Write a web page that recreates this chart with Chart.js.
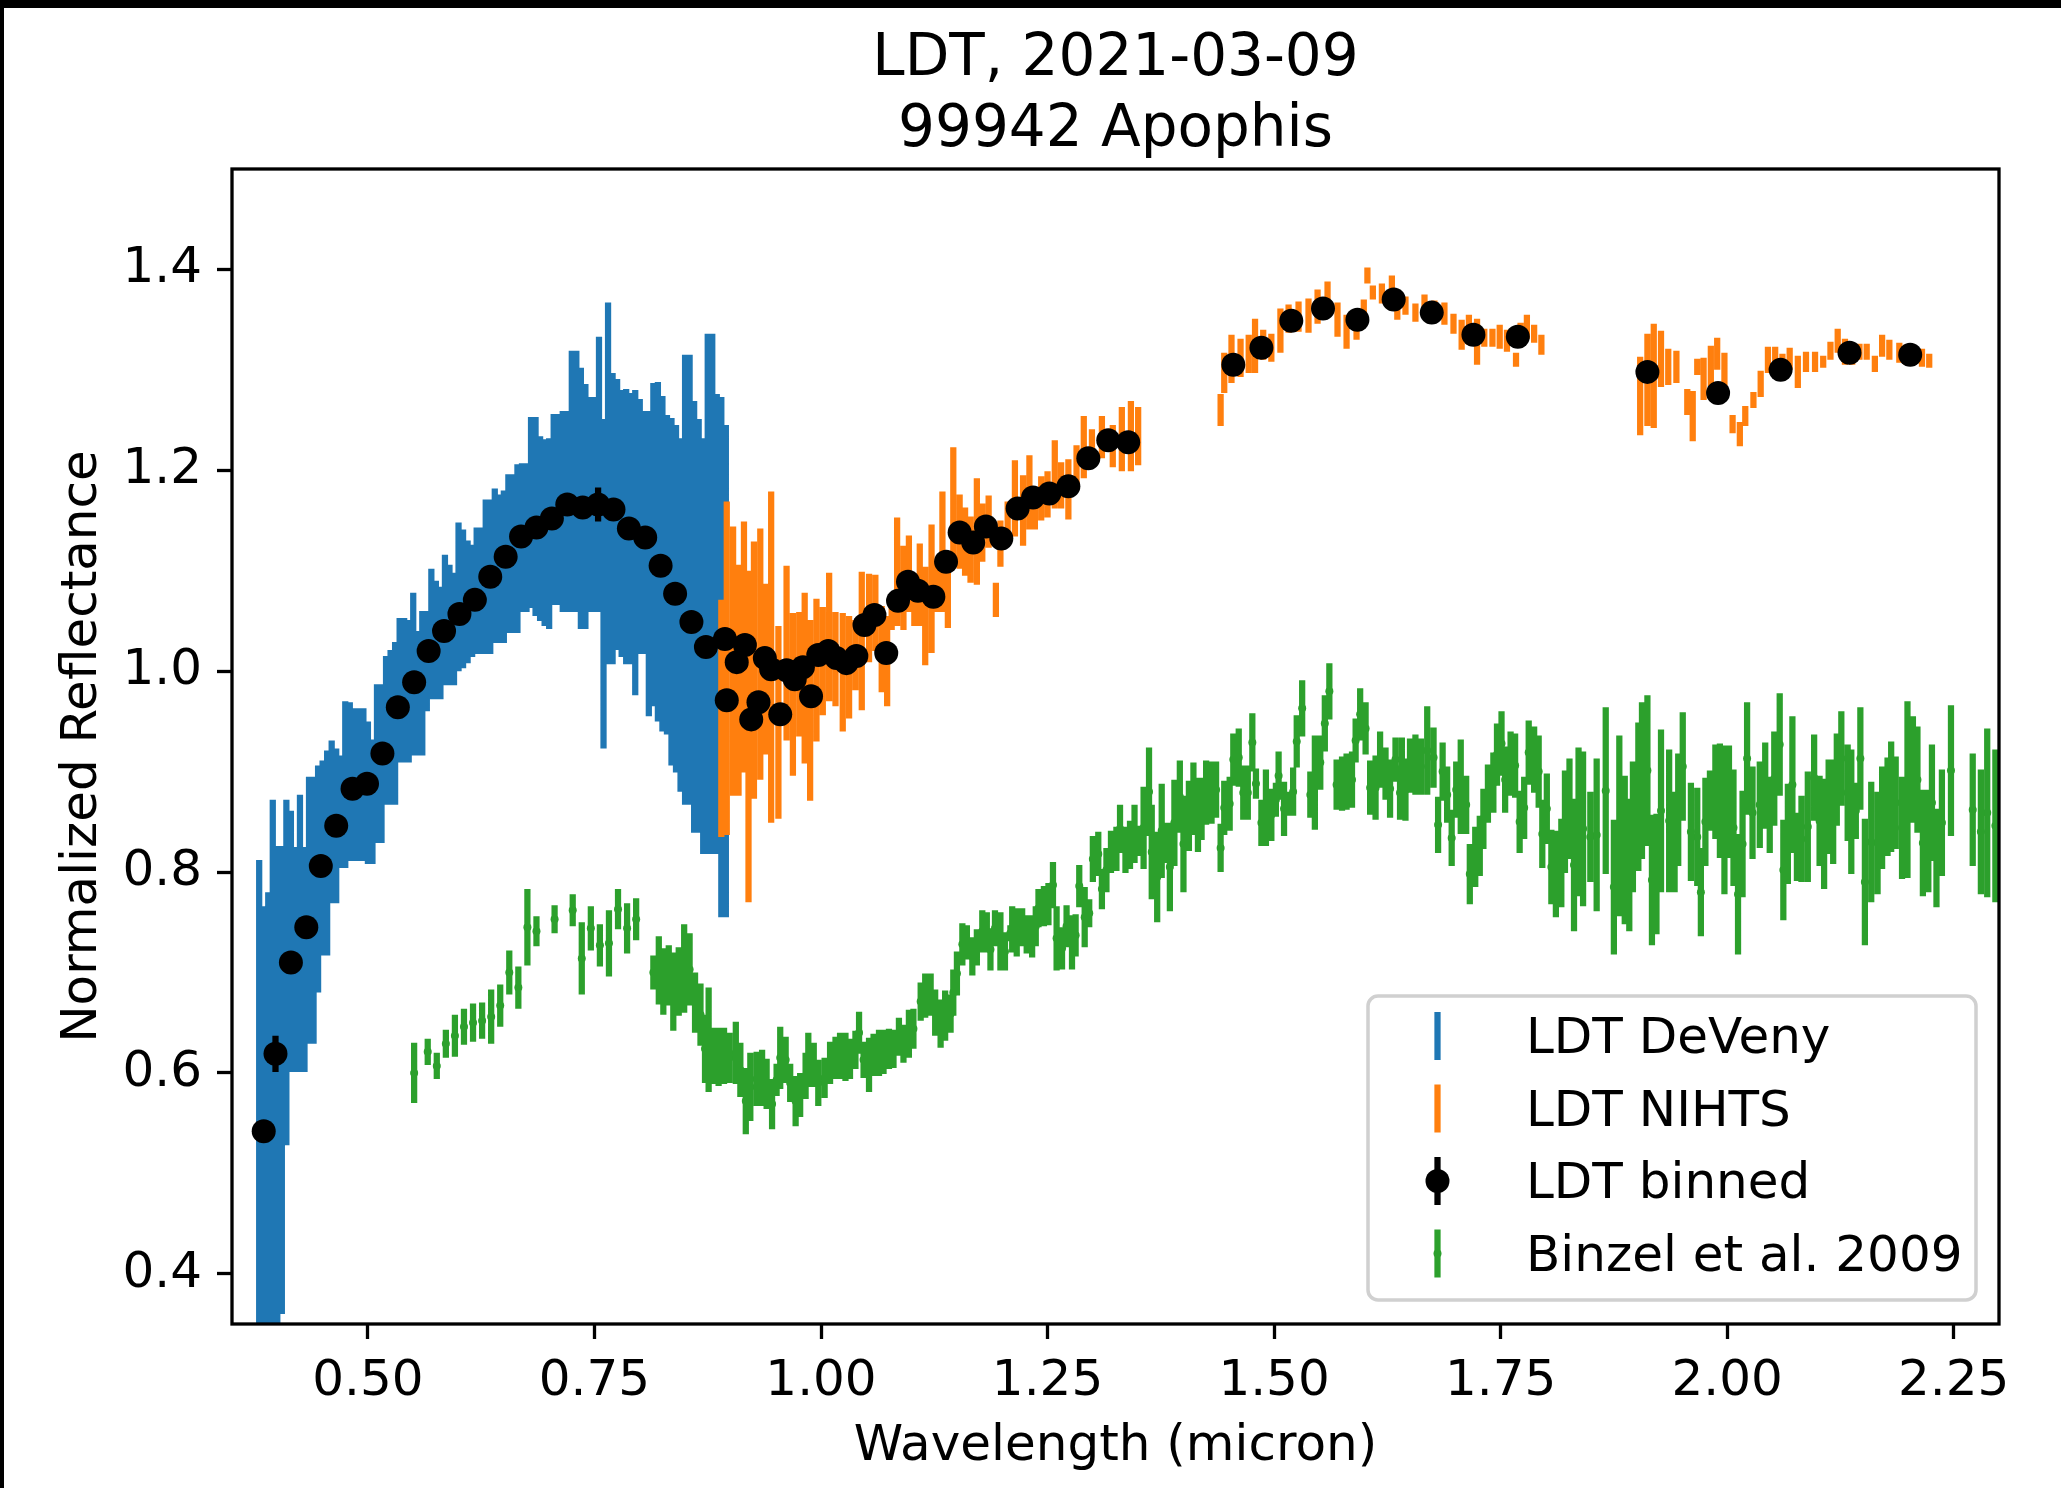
<!DOCTYPE html>
<html>
<head>
<meta charset="utf-8">
<title>LDT, 2021-03-09 - 99942 Apophis</title>
<script src="https://cdn.jsdelivr.net/npm/chart.js@4.4.1/dist/chart.umd.min.js"></script>
<style>
  html, body { margin: 0; padding: 0; background: #000; overflow: hidden; }
  #chart { position: absolute; left: 4px; top: 8px; background: #fff; }
</style>
</head>
<body>
<canvas id="chart" width="2057" height="1480"></canvas>
<script>
const FONT = '"DejaVu Sans", "Liberation Sans", sans-serif';

const titleLines = ['LDT, 2021-03-09', '99942 Apophis'];
const seriesNames = ['LDT DeVeny', 'LDT NIHTS', 'LDT binned', 'Binzel et al. 2009'];
const seriesColors = ['#1f77b4', '#ff7f0e', '#000000', '#2ca02c'];
const xTickValues = [0.50, 0.75, 1.00, 1.25, 1.50, 1.75, 2.00, 2.25];
const yTickValues = [0.4, 0.6, 0.8, 1.0, 1.2, 1.4];

// LDT DeVeny (visible spectrum)
const devenyWave = [0.380,0.385,0.390,0.395,0.400,0.405,0.410,0.415,0.420,0.425,
  0.430,0.435,0.440,0.445,0.450,0.455,0.460,0.465,0.470,0.475,
  0.480,0.485,0.490,0.495,0.500,0.505,0.510,0.515,0.520,0.525,
  0.530,0.535,0.540,0.545,0.550,0.555,0.560,0.565,0.570,0.575,
  0.580,0.585,0.590,0.595,0.600,0.605,0.610,0.615,0.620,0.625,
  0.630,0.635,0.640,0.645,0.650,0.655,0.660,0.665,0.670,0.675,
  0.680,0.685,0.690,0.695,0.700,0.705,0.710,0.715,0.720,0.725,
  0.730,0.735,0.740,0.745,0.750,0.755,0.760,0.765,0.770,0.775,
  0.780,0.785,0.790,0.795,0.800,0.805,0.810,0.815,0.820,0.825,
  0.830,0.835,0.840,0.845,0.850,0.855,0.860,0.865,0.870,0.875,
  0.880,0.885,0.890,0.895];
const devenyRefl = [0.576,0.553,0.560,0.606,0.583,0.593,0.700,0.731,0.713,0.739,
  0.713,0.762,0.762,0.793,0.814,0.819,0.850,0.846,0.860,0.887,
  0.890,0.887,0.887,0.887,0.879,0.870,0.908,0.908,0.941,0.944,
  0.948,0.981,0.981,0.980,0.997,0.978,0.988,1.010,1.037,1.031,
  1.028,1.051,1.046,1.042,1.074,1.072,1.069,1.070,1.080,1.080,
  1.094,1.094,1.105,1.102,1.104,1.117,1.117,1.122,1.133,1.133,
  1.158,1.154,1.142,1.138,1.137,1.161,1.161,1.159,1.159,1.189,
  1.189,1.172,1.164,1.166,1.166,1.196,1.087,1.187,1.152,1.156,
  1.147,1.144,1.142,1.128,1.144,1.138,1.107,1.126,1.119,1.107,
  1.096,1.079,1.072,1.056,1.091,1.091,1.054,1.045,1.025,1.077,
  1.077,1.047,1.014,1.000];
const devenyErr = [0.236,0.213,0.220,0.266,0.243,0.233,0.172,0.130,0.112,0.138,
  0.112,0.133,0.133,0.113,0.097,0.102,0.081,0.077,0.056,0.083,
  0.079,0.076,0.076,0.076,0.071,0.062,0.079,0.079,0.074,0.077,
  0.081,0.072,0.072,0.071,0.081,0.062,0.072,0.050,0.065,0.059,
  0.056,0.065,0.060,0.056,0.074,0.069,0.061,0.056,0.063,0.063,
  0.077,0.077,0.077,0.074,0.076,0.079,0.079,0.084,0.074,0.074,
  0.095,0.099,0.092,0.093,0.095,0.095,0.095,0.100,0.100,0.130,
  0.130,0.130,0.122,0.107,0.107,0.137,0.164,0.180,0.145,0.135,
  0.133,0.137,0.135,0.152,0.127,0.121,0.152,0.161,0.169,0.167,
  0.159,0.173,0.173,0.176,0.224,0.224,0.215,0.206,0.207,0.259,
  0.259,0.229,0.259,0.245];

// LDT NIHTS (near-infrared spectrum)
const nihtsWave = [0.890,0.896,0.903,0.909,0.915,0.920,0.926,0.933,0.939,0.945,
  0.953,0.962,0.969,0.976,0.982,0.988,0.995,1.002,1.009,1.016,
  1.024,1.031,1.038,1.045,1.053,1.060,1.067,1.073,1.078,1.084,
  1.091,1.097,1.103,1.109,1.115,1.122,1.128,1.134,1.140,1.146,
  1.153,1.159,1.165,1.172,1.178,1.185,1.193,1.198,1.206,1.214,
  1.223,1.230,1.236,1.243,1.250,1.258,1.265,1.273,1.282,1.290,
  1.299,1.310,1.322,1.332,1.342,1.350,
  1.441,1.445,1.453,1.463,1.472,1.479,1.488,1.497,1.507,1.516,
  1.527,1.538,1.548,1.559,1.570,1.580,1.591,1.599,1.603,1.609,
  1.619,1.630,1.636,1.645,1.656,1.666,1.677,1.688,1.698,1.707,
  1.715,1.724,1.732,1.741,1.749,1.757,1.767,1.772,1.779,1.787,1.795,
  1.904,1.912,1.919,1.927,1.935,1.944,1.956,1.962,1.967,1.974,
  1.982,1.989,1.997,2.006,2.014,2.020,2.029,2.037,2.045,2.053,
  2.061,2.069,2.078,2.087,2.097,2.106,2.114,2.122,2.130,2.138,
  2.146,2.154,2.163,2.171,2.179,2.190,2.198,2.206,2.215,2.223];
const nihtsRefl = [0.953,1.003,1.010,0.991,1.024,0.935,1.001,1.017,1.002,1.014,
  0.949,1.018,0.977,0.997,0.993,0.961,1.001,1.010,1.034,1.012,
  0.999,1.004,1.016,1.030,1.053,1.058,1.022,1.010,1.057,1.099,
  1.083,1.097,1.069,1.086,1.055,1.082,1.085,1.119,1.078,1.166,
  1.139,1.129,1.121,1.139,1.138,1.149,1.071,1.127,1.148,1.172,
  1.160,1.178,1.162,1.172,1.176,1.196,1.185,1.181,1.204,1.223,
  1.222,1.233,1.224,1.231,1.234,1.234,
  1.260,1.297,1.311,1.312,1.316,1.324,1.325,1.322,1.339,1.351,
  1.353,1.354,1.363,1.373,1.350,1.338,1.344,1.358,1.394,1.377,
  1.376,1.381,1.360,1.364,1.357,1.365,1.360,1.356,1.346,1.335,
  1.340,1.328,1.332,1.332,1.333,1.329,1.310,1.336,1.343,1.336,1.325,
  1.274,1.290,1.294,1.311,1.303,1.303,1.268,1.254,1.303,1.291,
  1.304,1.316,1.300,1.246,1.236,1.254,1.270,1.286,1.310,1.313,
  1.303,1.311,1.298,1.308,1.308,1.308,1.319,1.329,1.318,1.315,
  1.318,1.318,1.306,1.324,1.320,1.317,1.315,1.314,1.312,1.309];
const nihtsErr = [0.118,0.166,0.134,0.115,0.125,0.165,0.128,0.125,0.085,0.165,
  0.096,0.087,0.081,0.062,0.085,0.090,0.071,0.054,0.064,0.047,
  0.059,0.051,0.035,0.069,0.044,0.038,0.043,0.045,0.016,0.054,
  0.042,0.038,0.024,0.041,0.049,0.064,0.026,0.060,0.035,0.057,
  0.037,0.034,0.033,0.053,0.029,0.026,0.017,0.023,0.021,0.038,
  0.035,0.037,0.021,0.022,0.023,0.034,0.023,0.030,0.021,0.031,
  0.019,0.021,0.021,0.032,0.035,0.029,
  0.016,0.020,0.024,0.019,0.019,0.027,0.015,0.014,0.022,0.014,
  0.015,0.017,0.017,0.015,0.017,0.017,0.014,0.012,0.008,0.007,
  0.010,0.013,0.010,0.009,0.009,0.010,0.009,0.011,0.010,0.015,
  0.015,0.023,0.009,0.009,0.012,0.011,0.007,0.011,0.012,0.009,0.010,
  0.039,0.046,0.052,0.028,0.018,0.016,0.013,0.025,0.008,0.021,
  0.020,0.016,0.017,0.009,0.012,0.010,0.008,0.013,0.013,0.010,
  0.013,0.011,0.016,0.010,0.010,0.006,0.009,0.012,0.013,0.010,
  0.008,0.008,0.008,0.011,0.010,0.010,0.010,0.009,0.009,0.007];

// LDT binned
const binnedWave = [0.385,0.398,0.415,0.432,0.448,0.465,0.483,0.499,0.516,0.533,
  0.551,0.567,0.584,0.601,0.618,0.635,0.652,0.669,0.686,0.703,
  0.720,0.737,0.754,0.771,0.788,0.806,0.823,0.839,0.857,0.873,
  0.894,0.896,0.907,0.916,0.923,0.931,0.938,0.945,0.955,0.962,
  0.971,0.980,0.989,0.997,1.008,1.017,1.028,1.039,1.048,1.059,
  1.072,1.085,1.096,1.107,1.124,1.138,1.153,1.168,1.182,1.199,
  1.217,1.234,1.252,1.273,1.295,1.317,1.339,
  1.455,1.486,1.519,1.554,1.592,1.632,1.674,1.720,1.769,
  1.912,1.990,2.059,2.135,2.202];
const binnedRefl = [0.542,0.619,0.710,0.745,0.806,0.846,0.883,0.888,0.918,0.964,
  0.989,1.020,1.040,1.057,1.071,1.094,1.114,1.134,1.143,1.152,
  1.166,1.163,1.166,1.161,1.142,1.133,1.105,1.077,1.049,1.024,
  1.032,0.971,1.009,1.026,0.952,0.969,1.013,1.002,0.957,1.001,
  0.992,1.004,0.975,1.016,1.020,1.013,1.008,1.015,1.046,1.056,
  1.018,1.070,1.089,1.080,1.074,1.109,1.138,1.128,1.144,1.132,
  1.162,1.173,1.177,1.184,1.212,1.230,1.228,
  1.305,1.322,1.349,1.361,1.350,1.370,1.357,1.335,1.333,
  1.298,1.277,1.300,1.317,1.315];
const binnedErr = [0.005,0.018,0.005,0.005,0.005,0.005,0.005,0.005,0.005,0.005,
  0.005,0.005,0.005,0.005,0.005,0.005,0.005,0.005,0.005,0.005,
  0.005,0.005,0.017,0.005,0.005,0.005,0.005,0.005,0.005,0.005,
  0.005,0.005,0.005,0.005,0.005,0.005,0.005,0.005,0.005,0.005,
  0.005,0.005,0.005,0.005,0.005,0.005,0.005,0.005,0.005,0.005,
  0.005,0.005,0.005,0.005,0.005,0.005,0.005,0.005,0.005,0.005,
  0.005,0.005,0.005,0.005,0.005,0.005,0.005,
  0.005,0.005,0.005,0.005,0.005,0.005,0.005,0.005,0.005,
  0.005,0.005,0.005,0.005,0.005];

// Binzel et al. 2009
const binzelWave = [0.551,0.566,0.576,0.586,0.596,0.606,0.616,0.626,0.636,0.646,
  0.656,0.666,0.676,0.686,0.706,0.726,0.736,0.746,0.756,0.766,
  0.776,0.786,0.796,
  0.815,0.821,0.826,0.832,0.837,0.843,0.849,0.855,0.861,0.867,
  0.872,0.876,0.882,0.887,0.893,0.899,0.906,0.911,0.917,0.922,
  0.929,0.935,0.940,0.946,0.951,0.955,0.961,0.966,0.972,0.977,
  0.983,0.986,0.992,0.997,1.004,1.010,1.016,1.021,1.027,1.032,
  1.038,1.042,1.047,1.053,1.058,1.064,1.069,1.075,1.080,1.086,
  1.091,1.097,1.102,
  1.110,1.115,1.121,1.126,1.132,1.137,1.143,1.146,1.150,1.156,
  1.161,1.167,1.172,1.178,1.183,1.187,1.192,1.198,1.203,1.209,
  1.211,1.216,1.222,1.227,1.233,1.237,1.240,1.246,1.251,1.256,
  1.260,1.266,1.271,1.277,1.281,1.285,1.291,1.296,1.300,1.306,
  1.310,1.315,1.320,1.326,1.330,1.336,1.341,1.346,1.352,1.356,
  1.362,1.365,1.371,1.376,1.381,1.385,1.390,1.396,1.400,1.406,
  1.411,1.416,1.420,1.425,1.431,1.436,1.441,1.445,1.451,1.455,
  1.461,1.466,1.471,1.476,1.480,1.486,1.491,1.497,1.502,1.505,
  1.511,1.515,1.521,1.525,1.531,1.540,1.545,1.551,1.556,1.561,
  1.569,1.575,1.580,1.586,1.590,1.595,1.601,1.606,1.612,1.617,
  1.623,1.628,1.634,1.639,
  1.641,1.645,1.650,1.656,1.662,1.669,1.676,1.681,1.686,1.691,
  1.696,1.701,1.706,1.712,1.716,1.722,1.727,1.731,1.736,1.742,
  1.746,1.751,1.755,1.761,1.766,1.771,1.776,1.781,1.787,1.792,
  1.796,1.801,1.806,1.811,1.817,1.821,1.826,1.831,1.836,1.841,
  1.849,1.856,1.866,1.875,1.881,1.887,1.892,1.896,1.902,1.906,
  1.912,1.917,1.922,1.927,1.936,1.942,1.946,1.951,1.960,1.967,
  1.971,1.976,1.981,1.987,1.992,1.997,2.002,2.007,2.012,2.017,
  2.022,2.028,2.036,2.042,2.047,2.052,2.058,2.062,2.067,2.072,
  2.077,2.082,2.089,2.096,2.102,2.107,2.112,2.117,2.121,2.126,
  2.133,2.137,2.142,2.147,2.152,2.159,2.166,2.171,2.177,2.181,
  2.186,2.193,2.199,2.205,2.210,2.216,2.222,2.226,2.231,2.237,
  2.247,2.271,2.280,2.287,2.296];
const binzelRefl = [0.600,0.621,0.607,0.629,0.637,0.646,0.650,0.652,0.656,0.667,
  0.700,0.685,0.745,0.741,0.753,0.762,0.714,0.744,0.727,0.729,
  0.763,0.744,0.753,
  0.700,0.702,0.691,0.697,0.681,0.691,0.704,0.703,0.670,0.658,
  0.624,0.633,0.617,0.616,0.617,0.615,0.620,0.603,0.572,0.586,
  0.594,0.595,0.589,0.569,0.593,0.615,0.613,0.590,0.572,0.578,
  0.597,0.613,0.608,0.590,0.595,0.610,0.615,0.617,0.616,0.614,
  0.623,0.640,0.613,0.608,0.618,0.620,0.621,0.624,0.624,0.636,
  0.629,0.639,0.644,
  0.671,0.677,0.678,0.660,0.649,0.657,0.659,0.680,0.699,0.728,
  0.730,0.716,0.725,0.741,0.740,0.723,0.744,0.731,0.721,0.739,
  0.743,0.740,0.745,0.738,0.736,0.746,0.764,0.766,0.768,0.787,
  0.734,0.724,0.746,0.730,0.737,0.786,0.755,0.759,0.813,0.818,
  0.783,0.802,0.820,0.823,0.843,0.822,0.827,0.838,0.831,0.844,
  0.880,0.820,0.795,0.841,0.829,0.805,0.849,0.875,0.828,0.856,
  0.873,0.857,0.863,0.879,0.879,0.882,0.824,0.864,0.868,0.912,
  0.914,0.879,0.879,0.929,0.888,0.849,0.864,0.857,0.872,0.896,
  0.863,0.868,0.880,0.930,0.963,0.877,0.889,0.909,0.948,0.980,
  0.887,0.888,0.890,0.892,0.931,0.957,0.943,0.884,0.884,0.912,
  0.898,0.883,0.912,0.879,
  0.896,0.882,0.906,0.907,0.905,0.921,0.914,0.847,0.900,0.877,
  0.834,0.882,0.885,0.867,0.798,0.815,0.826,0.853,0.878,0.889,
  0.917,0.928,0.892,0.908,0.906,0.850,0.864,0.919,0.912,0.900,
  0.838,0.863,0.805,0.798,0.809,0.850,0.863,0.807,0.850,0.843,
  0.835,0.837,0.881,0.785,0.846,0.822,0.807,0.845,0.875,0.891,
  0.901,0.792,0.798,0.861,0.851,0.830,0.862,0.905,0.840,0.835,
  0.780,0.850,0.871,0.880,0.871,0.852,0.870,0.844,0.778,0.828,
  0.913,0.859,0.867,0.886,0.857,0.893,0.927,0.802,0.838,0.887,
  0.825,0.833,0.845,0.894,0.851,0.838,0.865,0.860,0.892,0.913,
  0.879,0.860,0.861,0.913,0.790,0.830,0.829,0.854,0.865,0.875,
  0.869,0.844,0.882,0.902,0.892,0.829,0.831,0.869,0.814,0.849,
  0.901,0.862,0.840,0.859,0.846];
const binzelErr = [0.030,0.013,0.013,0.014,0.021,0.018,0.019,0.018,0.027,0.021,
  0.022,0.021,0.038,0.015,0.014,0.016,0.036,0.022,0.021,0.033,
  0.020,0.025,0.021,
  0.017,0.034,0.033,0.030,0.039,0.034,0.044,0.036,0.030,0.031,
  0.034,0.052,0.028,0.029,0.028,0.025,0.031,0.027,0.033,0.034,
  0.027,0.028,0.025,0.025,0.016,0.031,0.023,0.019,0.025,0.022,
  0.023,0.027,0.022,0.023,0.020,0.021,0.021,0.023,0.024,0.020,
  0.019,0.021,0.018,0.027,0.021,0.023,0.022,0.020,0.019,0.019,
  0.019,0.024,0.020,
  0.019,0.022,0.021,0.023,0.024,0.025,0.019,0.023,0.022,0.021,
  0.017,0.019,0.018,0.021,0.020,0.021,0.018,0.029,0.019,0.008,
  0.023,0.024,0.019,0.019,0.021,0.020,0.019,0.020,0.021,0.023,
  0.032,0.021,0.021,0.027,0.021,0.021,0.030,0.014,0.023,0.022,
  0.020,0.022,0.021,0.022,0.024,0.023,0.024,0.029,0.015,0.041,
  0.044,0.047,0.045,0.047,0.020,0.044,0.043,0.036,0.048,0.035,
  0.036,0.037,0.031,0.032,0.031,0.028,0.024,0.027,0.027,0.026,
  0.029,0.027,0.027,0.029,0.015,0.023,0.038,0.026,0.017,0.024,
  0.027,0.012,0.024,0.026,0.028,0.023,0.047,0.027,0.028,0.028,
  0.025,0.027,0.028,0.028,0.022,0.026,0.026,0.027,0.032,0.028,
  0.026,0.029,0.022,0.027,
  0.038,0.031,0.027,0.030,0.028,0.044,0.030,0.028,0.029,0.028,
  0.028,0.028,0.047,0.029,0.030,0.030,0.030,0.030,0.029,0.030,
  0.031,0.032,0.033,0.032,0.032,0.031,0.031,0.032,0.033,0.036,
  0.034,0.035,0.037,0.043,0.044,0.051,0.050,0.066,0.074,0.077,
  0.045,0.076,0.083,0.067,0.090,0.074,0.066,0.065,0.074,0.078,
  0.075,0.065,0.060,0.081,0.071,0.050,0.056,0.054,0.049,0.049,
  0.044,0.044,0.030,0.047,0.057,0.074,0.056,0.058,0.060,0.053,
  0.056,0.046,0.043,0.043,0.038,0.047,0.051,0.050,0.050,0.068,
  0.034,0.043,0.055,0.043,0.045,0.055,0.047,0.052,0.046,0.047,
  0.048,0.062,0.028,0.051,0.063,0.060,0.051,0.051,0.049,0.055,
  0.046,0.051,0.088,0.053,0.053,0.053,0.051,0.058,0.049,0.053,
  0.065,0.056,0.062,0.084,0.076];

function toPoints(wave, refl) {
  return wave.map((w, i) => ({ x: w, y: refl[i] }));
}

// vertical error bars, drawn right after each dataset so the stacking order holds
const errorBars = {
  id: 'errorBars',
  afterDatasetDraw(chart, args) {
    const ds = chart.data.datasets[args.index];
    if (!ds.yErr) return;
    const { ctx, chartArea: a } = chart;
    const xs = chart.scales.x, ys = chart.scales.y;
    ctx.save();
    ctx.beginPath();
    ctx.rect(a.left, a.top, a.right - a.left, a.bottom - a.top);
    ctx.clip();
    ctx.strokeStyle = ds.borderColor;
    ctx.lineWidth = ds.barWidth;
    ctx.lineCap = 'butt';
    ctx.beginPath();
    ds.data.forEach((p, i) => {
      const px = xs.getPixelForValue(p.x);
      ctx.moveTo(px, ys.getPixelForValue(p.y + ds.yErr[i]));
      ctx.lineTo(px, ys.getPixelForValue(p.y - ds.yErr[i]));
    });
    ctx.stroke();
    ctx.restore();
  }
};

// full box around the axes
const frame = {
  id: 'frame',
  afterDatasetsDraw(chart) {
    const { ctx, chartArea: a } = chart;
    ctx.save();
    ctx.strokeStyle = '#000';
    ctx.lineWidth = 3.3;
    ctx.strokeRect(a.left, a.top, a.right - a.left, a.bottom - a.top);
    ctx.restore();
  }
};

const titleAndLegend = {
  id: 'titleAndLegend',
  afterDraw(chart) {
    const { ctx, chartArea: a } = chart;
    ctx.save();

    // two-line title
    ctx.fillStyle = '#000';
    ctx.font = '58px ' + FONT;
    ctx.textAlign = 'center';
    ctx.textBaseline = 'alphabetic';
    const cx = (a.left + a.right) / 2;
    ctx.fillText(titleLines[0], cx, a.top - 94);
    ctx.fillText(titleLines[1], cx, a.top - 23);

    // legend, lower right
    const right = a.right - 23, bottom = a.bottom - 24;
    const left = right - 608, top = bottom - 304, r = 10;
    ctx.beginPath();
    ctx.moveTo(left + r, top);
    ctx.arcTo(right, top, right, bottom, r);
    ctx.arcTo(right, bottom, left, bottom, r);
    ctx.arcTo(left, bottom, left, top, r);
    ctx.arcTo(left, top, right, top, r);
    ctx.closePath();
    ctx.fillStyle = 'rgba(255,255,255,0.8)';
    ctx.fill();
    ctx.strokeStyle = '#d0d0d0';
    ctx.lineWidth = 3.5;
    ctx.stroke();

    const hx = left + 69.5, tx = left + 158;
    ctx.font = '50px ' + FONT;
    ctx.textAlign = 'left';
    seriesNames.forEach((name, i) => {
      const cy = top + 40 + i * 72.5;
      ctx.strokeStyle = seriesColors[i];
      ctx.fillStyle = seriesColors[i];
      ctx.lineWidth = 6.25;
      ctx.beginPath();
      ctx.moveTo(hx, cy - 24);
      ctx.lineTo(hx, cy + 24);
      ctx.stroke();
      if (i === 2 || i === 3) {
        ctx.beginPath();
        ctx.arc(hx, cy, i === 2 ? 12 : 4, 0, Math.PI * 2);
        ctx.fill();
      }
      ctx.fillStyle = '#000';
      ctx.fillText(name, tx, cy + 17);
    });
    ctx.restore();
  }
};

Chart.defaults.font.family = FONT;
Chart.defaults.color = '#000';

new Chart(document.getElementById('chart'), {
  type: 'scatter',
  data: {
    datasets: [
      { label: seriesNames[0], data: toPoints(devenyWave, devenyRefl), yErr: devenyErr,
        borderColor: seriesColors[0], backgroundColor: seriesColors[0], barWidth: 6.25,
        pointRadius: 0, order: 3 },
      { label: seriesNames[1], data: toPoints(nihtsWave, nihtsRefl), yErr: nihtsErr,
        borderColor: seriesColors[1], backgroundColor: seriesColors[1], barWidth: 6.25,
        pointRadius: 0, order: 2 },
      { label: seriesNames[2], data: toPoints(binnedWave, binnedRefl), yErr: binnedErr,
        borderColor: seriesColors[2], backgroundColor: seriesColors[2], barWidth: 6.25,
        pointRadius: 12, pointBorderWidth: 0, order: 0 },
      { label: seriesNames[3], data: toPoints(binzelWave, binzelRefl), yErr: binzelErr,
        borderColor: seriesColors[3], backgroundColor: seriesColors[3], barWidth: 6.25,
        pointRadius: 4, pointBorderWidth: 0, order: 1 }
    ]
  },
  options: {
    responsive: false,
    animation: false,
    devicePixelRatio: 1,
    events: [],
    layout: { padding: { left: 0, top: 161, right: 62, bottom: 0 } },
    plugins: { legend: { display: false }, tooltip: { enabled: false } },
    scales: {
      x: {
        type: 'linear',
        min: 0.35,
        max: 2.3,
        afterBuildTicks: s => { s.ticks = xTickValues.map(v => ({ value: v })); },
        afterFit: s => { s.height = 164; },
        ticks: {
          callback: v => v.toFixed(2),
          font: { size: 50 },
          color: '#000',
          padding: 13,
          autoSkip: false,
          maxRotation: 0
        },
        grid: { drawOnChartArea: false, drawTicks: true, tickLength: 15, tickWidth: 3.3, tickColor: '#000' },
        border: { display: false },
        title: {
          display: true,
          text: 'Wavelength (micron)',
          font: { size: 50, lineHeight: 1 },
          color: '#000',
          padding: { top: 0, bottom: 16 }
        }
      },
      y: {
        type: 'linear',
        min: 0.35,
        max: 1.5,
        afterBuildTicks: s => { s.ticks = yTickValues.map(v => ({ value: v })); },
        afterFit: s => { s.width = 228; },
        ticks: {
          callback: v => v.toFixed(1),
          font: { size: 50 },
          color: '#000',
          padding: 15,
          autoSkip: false
        },
        grid: { drawOnChartArea: false, drawTicks: true, tickLength: 15, tickWidth: 3.3, tickColor: '#000' },
        border: { display: false },
        title: {
          display: true,
          text: 'Normalized Reflectance',
          font: { size: 50, lineHeight: 1 },
          color: '#000',
          padding: { top: 54, bottom: 0 }
        }
      }
    }
  },
  plugins: [errorBars, frame, titleAndLegend]
});
</script>
</body>
</html>
